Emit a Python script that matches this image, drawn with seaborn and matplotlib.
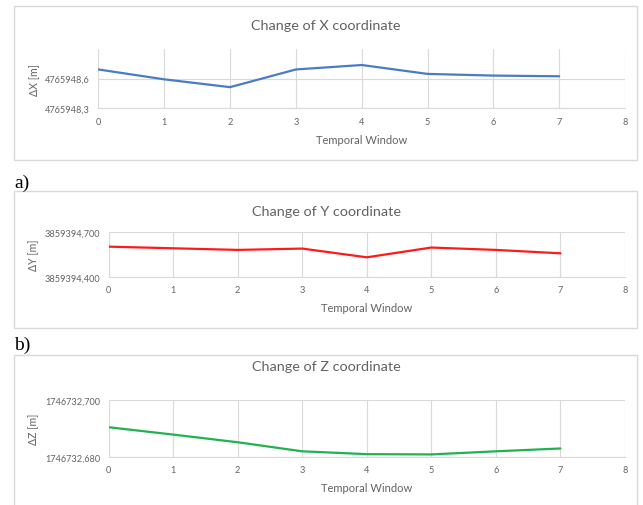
import matplotlib
matplotlib.use("Agg")
import matplotlib.pyplot as plt
from matplotlib.patches import Rectangle
import seaborn as sns
import pandas as pd

# ---------------- data ----------------
windows = [0, 1, 2, 3, 4, 5, 6, 7]
x_coord = [4765948.693, 4765948.593, 4765948.514, 4765948.693,
           4765948.738, 4765948.648, 4765948.631, 4765948.624]
y_coord = [3859394.603, 3859394.592, 3859394.581, 3859394.590,
           3859394.531, 3859394.597, 3859394.581, 3859394.558]
z_coord = [1746732.6904, 1746732.6878, 1746732.6851, 1746732.6819,
           1746732.6809, 1746732.6808, 1746732.6819, 1746732.6829]

x_ticks = [0, 1, 2, 3, 4, 5, 6, 7, 8]
x_yticks = [4765948.3, 4765948.6]
x_yticklabels = ["4765948,3", "4765948,6"]
y_yticks = [3859394.4, 3859394.7]
y_yticklabels = ["3859394,400", "3859394,700"]
z_yticks = [1746732.68, 1746732.70]
z_yticklabels = ["1746732,680", "1746732,700"]

titles = ["Change of X coordinate", "Change of Y coordinate", "Change of Z coordinate"]
ylabels = ["ΔX [m]", "ΔY [m]", "ΔZ [m]"]
xlabel = "Temporal Window"
panel_tags = ["a)", "b)"]

# ---------------- style ----------------
sns.set_theme(style="white")
plt.rcParams["font.family"] = ["Lato", "DejaVu Sans"]

TXT = "#626262"
GRID = "#d9d9d9"

W, H = 643, 506
fig = plt.figure(figsize=(W / 100, H / 100), dpi=100)
fig.patch.set_facecolor("white")


def fx(px):
    return px / W


def fy(py):
    return 1 - py / H


def box(top, bottom, left=13.5, right=636.5):
    fig.patches.append(Rectangle((fx(left), fy(bottom)), fx(right) - fx(left),
                                 fy(top) - fy(bottom), transform=fig.transFigure,
                                 fill=False, edgecolor=GRID, lw=1.0, zorder=0))


panels = [
    dict(data=x_coord, color="#4a7cc6", ylim=(4765948.3, 4765948.9),
         yt=x_yticks, ytl=x_yticklabels, left=98.4, top=50, bottom=109.3,
         title_y=26, xlab_y=140.7, box=(7.3, 161)),
    dict(data=y_coord, color="#ff1a1a", ylim=(3859394.4, 3859394.7),
         yt=y_yticks, ytl=y_yticklabels, left=108.6, top=233.3, bottom=277.7,
         title_y=211.7, xlab_y=308.3, box=(191.7, 329)),
    dict(data=z_coord, color="#1fb34f", ylim=(1746732.68, 1746732.70),
         yt=z_yticks, ytl=z_yticklabels, left=108.6, top=401, bottom=457.7,
         title_y=366.7, xlab_y=488.3, box=(356, 530)),
]

right = 625
for i, p in enumerate(panels):
    box(*p["box"])
    ax = fig.add_axes([fx(p["left"]), fy(p["bottom"]), fx(right) - fx(p["left"]),
                       fy(p["top"]) - fy(p["bottom"])])
    df = pd.DataFrame({"w": windows, "v": p["data"]})
    sns.lineplot(data=df, x="w", y="v", ax=ax, color=p["color"], lw=1.6)
    ax.set_xlim(0, 8)
    ax.set_ylim(*p["ylim"])
    ax.set_xticks(x_ticks)
    ax.set_xticklabels([str(t) for t in x_ticks])
    ax.set_yticks(p["yt"])
    ax.set_yticklabels(p["ytl"])
    for t in x_ticks:
        ax.axvline(t, color=GRID, lw=0.8, zorder=0)
    for t in p["yt"]:
        ax.axhline(t, color=GRID, lw=0.8, zorder=0)
    for s in ["top", "right", "left"]:
        ax.spines[s].set_visible(False)
    ax.spines["bottom"].set_color(GRID)
    ax.spines["bottom"].set_linewidth(0.8)
    ax.tick_params(axis="both", length=0, labelsize=6.6, colors=TXT, pad=6)
    ax.set_xlabel("")
    ax.set_ylabel(ylabels[i], fontsize=7.6, color=TXT, labelpad=4)
    fig.text(fx((p["left"] + right) / 2), fy(p["xlab_y"]), xlabel, ha="center",
             va="center", fontsize=8, color=TXT)
    fig.text(fx(326), fy(p["title_y"]), titles[i], ha="center", va="center",
             fontsize=10.4, color=TXT)
    ax.set_facecolor("none")

fig.text(fx(14), fy(188), panel_tags[0], fontsize=14, family="Liberation Serif",
         color="black", va="baseline", ha="left")
fig.text(fx(14), fy(350), panel_tags[1], fontsize=14, family="Liberation Serif",
         color="black", va="baseline", ha="left")

fig.savefig("out.png", dpi=100)
